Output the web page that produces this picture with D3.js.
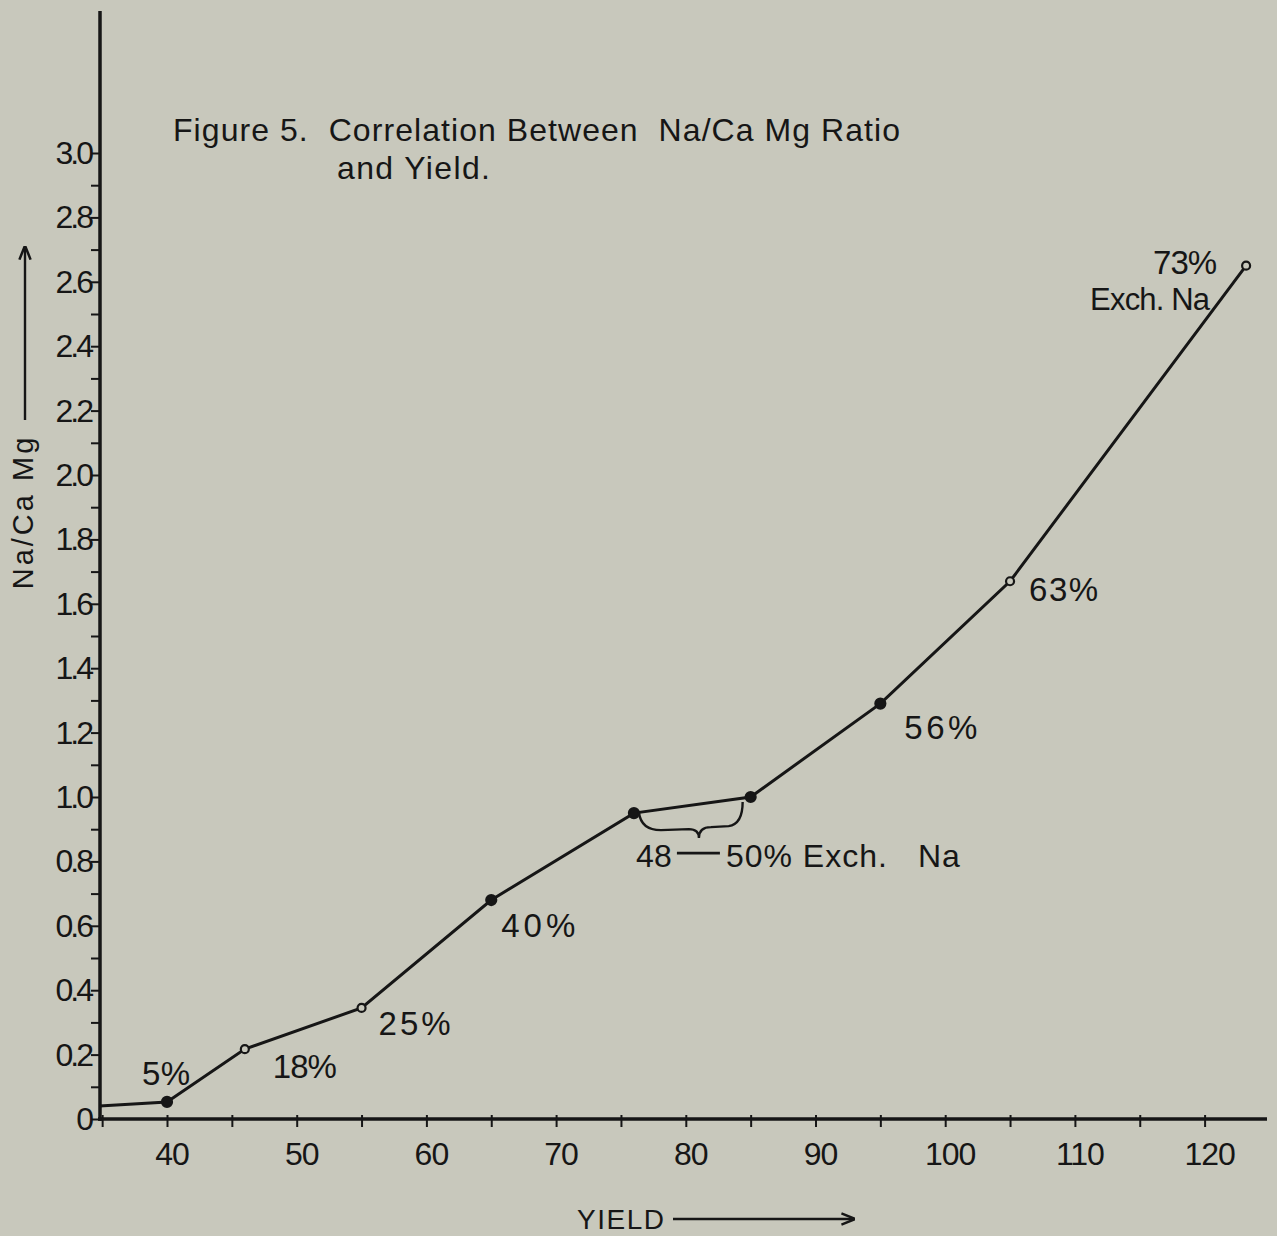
<!DOCTYPE html>
<html>
<head>
<meta charset="utf-8">
<script src="https://cdn.jsdelivr.net/npm/d3@7"></script>
<style>
  html, body { margin: 0; padding: 0; background: #c8c8bc; }
  svg { display: block; }
  text { font-family: "Liberation Sans", Arial, sans-serif; fill: #161616; white-space: pre; }
</style>
</head>
<body>
<svg id="chart" width="1277" height="1236"></svg>
<script>
// ---- data ----
const yieldValues = [34.8, 40, 46, 55, 65, 76, 85, 95, 105, 123.2];
const ratioValues = [0.04, 0.053, 0.217, 0.345, 0.68, 0.95, 1.0, 1.29, 1.67, 2.65];
const pointOpen   = [false, false, true, true, false, false, false, false, true, true];
const pointLabels = ["", "5%", "18%", "25%", "40%", "", "", "56%", "63%", "73%"];
const xTickValues = [40, 50, 60, 70, 80, 90, 100, 110, 120];
const xMinorTicks = [35, 40, 45, 50, 55, 60, 65, 70, 75, 80, 85, 90, 95, 100, 105, 110, 115, 120];
const yTickValues = [0, 0.2, 0.4, 0.6, 0.8, 1.0, 1.2, 1.4, 1.6, 1.8, 2.0, 2.2, 2.4, 2.6, 2.8, 3.0];
const yTickLabels = ["0", "0.2", "0.4", "0.6", "0.8", "1.0", "1.2", "1.4", "1.6", "1.8", "2.0", "2.2", "2.4", "2.6", "2.8", "3.0"];
const yMinorTicks = d3.range(0, 31).map(i => i / 10);
const titleLines = ["Figure 5.  Correlation Between  Na/Ca Mg Ratio", "and Yield."];
const xAxisTitle = "YIELD";
const yAxisTitle = "Na/Ca Mg";
const rangeNoteParts = ["48", "50% Exch.", "Na"];
const endNote = "Exch. Na";

// ---- layout ----
const svg = d3.select("#chart");
const x = d3.scaleLinear().domain([40, 120]).range([167, 1204.6]);
const y = d3.scaleLinear().domain([0, 3]).range([1119, 153]);
const xMin = x.invert(100), xMax = x.invert(1267);
const yMax = y.invert(11);
const ink = "#161616";
const bg = "#c8c8bc";

// x axis
const gx = svg.append("g").attr("transform", `translate(0,${y(0)})`);
gx.call(d3.axisBottom(x).tickValues(xMinorTicks).tickSize(8).tickFormat(""));
gx.select(".domain").remove();
gx.selectAll(".tick line").attr("y1", -4).attr("stroke", ink).attr("stroke-width", 2);
gx.append("line").attr("x1", x(xMin) - 2).attr("x2", x(xMax)).attr("stroke", ink).attr("stroke-width", 3.5);
gx.selectAll(".xl").data(xTickValues).join("text")
  .attr("class", "xl")
  .attr("x", d => x(d) + 5).attr("y", 46)
  .attr("text-anchor", "middle")
  .attr("font-size", 32).attr("letter-spacing", -1)
  .text(d => d);

// y axis
const gy = svg.append("g").attr("transform", `translate(${x(xMin)},0)`);
gy.call(d3.axisLeft(y).tickValues(yMinorTicks).tickSize(9).tickFormat(""));
gy.select(".domain").remove();
gy.selectAll(".tick line").attr("stroke", ink).attr("stroke-width", 2);
gy.append("line").attr("y1", y(0) + 2).attr("y2", y(yMax)).attr("stroke", ink).attr("stroke-width", 3.5);
gy.selectAll(".yl").data(yTickValues).join("text")
  .attr("class", "yl")
  .attr("x", -9).attr("y", d => y(d) + 11)
  .attr("text-anchor", "end")
  .attr("font-size", 32)
  .attr("letter-spacing", -3)
  .text((d, i) => yTickLabels[i]);

// arrow marker
svg.append("defs").append("marker")
  .attr("id", "arr").attr("viewBox", "0 0 10 10").attr("refX", 9).attr("refY", 5)
  .attr("markerWidth", 14).attr("markerHeight", 14).attr("markerUnits", "userSpaceOnUse")
  .attr("orient", "auto")
  .append("path").attr("d", "M0,1 L10,5 L0,9").attr("fill", "none").attr("stroke", ink).attr("stroke-width", 1.8);

// y axis title with arrow
svg.append("text")
  .attr("transform", "translate(33,512) rotate(-90)")
  .attr("text-anchor", "middle")
  .attr("font-size", 29).attr("letter-spacing", 3)
  .text(yAxisTitle);
svg.append("line").attr("x1", 25).attr("x2", 25).attr("y1", 420).attr("y2", 247)
  .attr("stroke", ink).attr("stroke-width", 2.4).attr("marker-end", "url(#arr)");

// x axis title with arrow
svg.append("text")
  .attr("x", 577).attr("y", 1229)
  .attr("font-size", 28).attr("letter-spacing", 1.5)
  .text(xAxisTitle);
svg.append("line").attr("x1", 673).attr("x2", 854).attr("y1", 1219).attr("y2", 1219)
  .attr("stroke", ink).attr("stroke-width", 2.4).attr("marker-end", "url(#arr)");

// title
svg.append("text").attr("x", 173).attr("y", 141).attr("font-size", 32)
  .attr("textLength", 727).attr("lengthAdjust", "spacing").text(titleLines[0]);
svg.append("text").attr("x", 337).attr("y", 179).attr("font-size", 32)
  .attr("textLength", 153).attr("lengthAdjust", "spacing").text(titleLines[1]);

// line
const pts = yieldValues.map((v, i) => [v, ratioValues[i]]);
svg.append("path").datum(pts)
  .attr("fill", "none").attr("stroke", ink).attr("stroke-width", 3)
  .attr("d", d3.line().x(d => x(d[0])).y(d => y(d[1])));

svg.selectAll(".pt").data(pts.slice(1)).join("circle")
  .attr("class", "pt")
  .attr("cx", d => x(d[0])).attr("cy", d => y(d[1]))
  .attr("r", (d, i) => pointOpen[i + 1] ? 4 : 5)
  .attr("fill", (d, i) => pointOpen[i + 1] ? bg : ink)
  .attr("stroke", ink).attr("stroke-width", 2.2);

// point labels (offsets from point: dx, dy to text left/baseline, width)
const labelOffsets = [null, [-25, -17, 48], [28, 29, 64], [17, 27, 72], [10, 37, 74],
  null, null, [24, 35, 73], [19, 20, 69], [-93, 8, 64]];
pts.forEach((p, i) => {
  if (!pointLabels[i]) return;
  const o = labelOffsets[i];
  svg.append("text")
    .attr("x", x(p[0]) + o[0]).attr("y", y(p[1]) + o[1])
    .attr("font-size", 33)
    .attr("textLength", o[2]).attr("lengthAdjust", "spacing")
    .text(pointLabels[i]);
});

// 73% Exch. Na
svg.append("text")
  .attr("x", x(yieldValues[9]) - 156).attr("y", y(ratioValues[9]) + 44)
  .attr("font-size", 31)
  .attr("textLength", 120).attr("lengthAdjust", "spacing")
  .text(endNote);

// brace under 48-50% segment
const bx0 = x(yieldValues[5]) + 5, bx1 = x(yieldValues[6]) - 8;
const by0 = y(ratioValues[5]) - 1, by1 = y(ratioValues[6]) + 11;
const bm = x(yieldValues[5]) + 65, bBottom = y(ratioValues[5]) + 17;
svg.append("path")
  .attr("d", `M${bx0},${by0} Q${bx0 + 2},${bBottom} ${bx0 + 22},${bBottom} L${bm - 10},${bBottom - 1} Q${bm},${bBottom - 1} ${bm},${bBottom + 8} Q${bm},${bBottom - 3} ${bm + 12},${bBottom - 3} L${bx1 - 14},${bBottom - 4} Q${bx1},${bBottom - 6} ${bx1},${by1 - 6}`)
  .attr("fill", "none").attr("stroke", ink).attr("stroke-width", 2.4);

// 48 — 50% Exch. Na
const nx = x(yieldValues[5]), ny = y(ratioValues[5]) + 54;
svg.append("text").attr("x", nx + 2).attr("y", ny).attr("font-size", 32)
  .attr("textLength", 36).attr("lengthAdjust", "spacing").text(rangeNoteParts[0]);
svg.append("line").attr("x1", nx + 43).attr("x2", nx + 86).attr("y1", ny - 14).attr("y2", ny - 14)
  .attr("stroke", ink).attr("stroke-width", 2.6);
svg.append("text").attr("x", nx + 92).attr("y", ny).attr("font-size", 32)
  .attr("textLength", 161).attr("lengthAdjust", "spacing").text(rangeNoteParts[1]);
svg.append("text").attr("x", nx + 284).attr("y", ny).attr("font-size", 32)
  .attr("textLength", 42).attr("lengthAdjust", "spacing").text(rangeNoteParts[2]);
</script>
</body>
</html>
